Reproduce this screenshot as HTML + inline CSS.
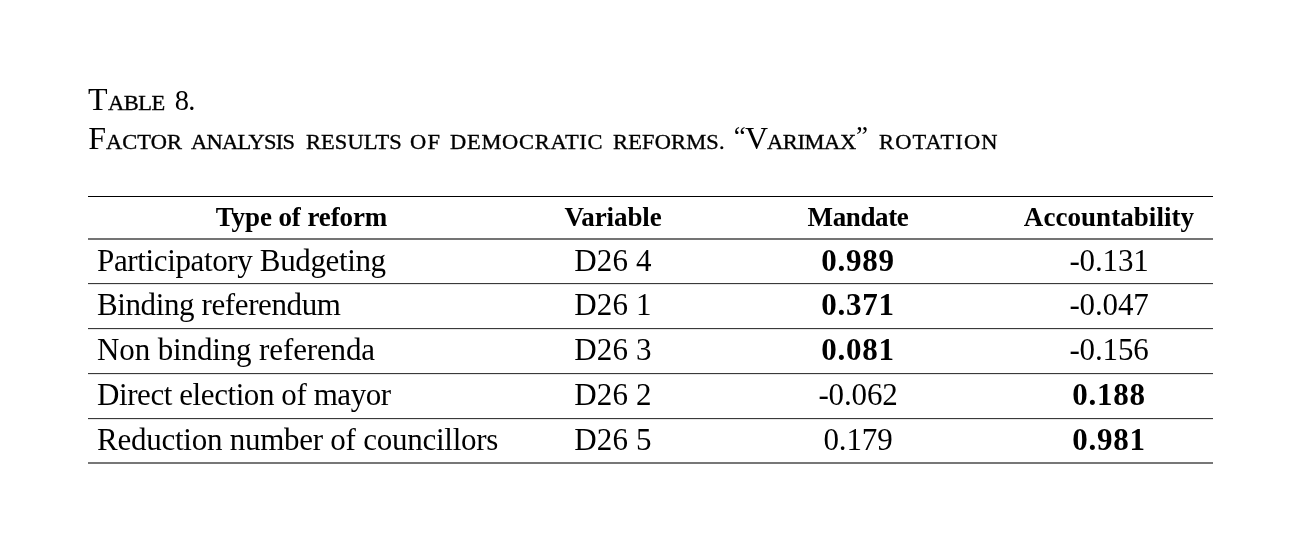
<!DOCTYPE html>
<html lang="en">
<head>
<meta charset="utf-8">
<title>Table 8. Factor analysis results of democratic reforms</title>
<style>
  html, body { margin: 0; padding: 0; background: #fff; }
  body { width: 1302px; height: 553px; position: relative; overflow: hidden;
         font-family: "Liberation Serif", "Times New Roman", serif; color: #000; }

  /* caption: two lines of small caps (capitals 32px, small capitals 21.4px) */
  .caption { position: absolute; left: 0; top: 0; margin: 0; font-weight: 400;
             font-size: 21.4px; text-transform: uppercase; white-space: nowrap; }
  .caption .ln { position: absolute; left: 0; display: block; height: 40px; line-height: 40px; width: 1302px; }
  .caption .l1 { top: 83px; }
  .caption .l2 { top: 122px; }
  .caption .w { position: absolute; top: 0; -webkit-text-stroke: 0.35px #000; }
  .caption .s { display: inline-block; transform: scaleX(1.05); transform-origin: 0 50%; }
  .caption .c { font-size: 32px; line-height: 0; -webkit-text-stroke: 0; }
  .caption .n { font-size: 28.5px; line-height: 0; -webkit-text-stroke: 0; }
  .caption .q { font-size: 27px; line-height: 0; -webkit-text-stroke: 0; position: relative; top: -4px; }

  /* table */
  table { position: absolute; left: 88px; top: 196px; width: 1125px; border-collapse: separate; border-spacing: 0;
          table-layout: fixed; font-size: 31px; }
  col.c1 { width: 427px; } col.c2 { width: 196px; } col.c3 { width: 294px; } col.c4 { width: 208px; }
  th, td { padding: 0; text-align: center; font-weight: 400; white-space: nowrap; overflow: visible; }
  thead th { height: 41px; line-height: 39px; border-top: 1px solid #000; border-bottom: 2px solid #747474;
             font-weight: 700; font-size: 27px; }
  tbody td { height: 44px; line-height: 42px; vertical-align: top; border-bottom: 1px solid #3a3a3a;
             background: linear-gradient(#e6e6e6, #e6e6e6) left top / 100% 1px no-repeat; }
  tbody tr:first-child td { height: 43px; background: none; }
  tbody tr:last-child td { height: 43px; border-bottom: 2px solid #777; }
  tbody td:first-child { text-align: left; padding-left: 9px; }
  tbody td { letter-spacing: -0.15px; }
  tbody td.v { letter-spacing: 0.2px; }
  b { font-weight: 700; letter-spacing: 0.8px; }
</style>
</head>
<body>
<h1 class="caption">
  <span class="ln l1"><span class="w" style="left:88px"><span class="c">T</span><span class="s" style="letter-spacing:-0.48px">able</span></span> <span class="w" style="left:174.7px;letter-spacing:-0.8px"><span class="n">8.</span></span></span>
  <span class="ln l2"><span class="w" style="left:88.3px"><span class="c">F</span><span class="s" style="letter-spacing:0.07px">actor</span></span> <span class="w" style="left:191px"><span class="s" style="letter-spacing:-0.65px">analysis</span></span> <span class="w" style="left:305.6px"><span class="s" style="letter-spacing:0.06px">results</span></span> <span class="w" style="left:410px"><span class="s" style="letter-spacing:1.33px">of</span></span> <span class="w" style="left:449.8px"><span class="s" style="letter-spacing:0.69px">democratic</span></span> <span class="w" style="left:612.8px"><span class="s" style="letter-spacing:0.15px">reforms.</span></span> <span class="w" style="left:733.8px"><span class="q">“</span></span><span class="w" style="left:744.9px"><span class="c" style="letter-spacing:-1.4px">V</span><span class="s" style="letter-spacing:-0.38px">arimax</span></span><span class="w" style="left:856.1px"><span class="q">”</span></span> <span class="w" style="left:878.8px"><span class="s" style="letter-spacing:1.09px">rotation</span></span></span>
</h1>
<table>
  <colgroup><col class="c1"><col class="c2"><col class="c3"><col class="c4"></colgroup>
  <thead>
    <tr><th style="letter-spacing:-0.1px">Type of reform</th><th style="letter-spacing:-0.11px">Variable</th><th style="letter-spacing:-0.37px">Mandate</th><th style="letter-spacing:0.06px">Accountability</th></tr>
  </thead>
  <tbody>
    <tr><td style="letter-spacing:-0.36px">Participatory Budgeting</td><td class="v">D26 4</td><td><b>0.989</b></td><td>-0.131</td></tr>
    <tr><td style="letter-spacing:-0.39px">Binding referendum</td><td class="v">D26 1</td><td><b>0.371</b></td><td>-0.047</td></tr>
    <tr><td style="letter-spacing:-0.125px">Non binding referenda</td><td class="v">D26 3</td><td><b>0.081</b></td><td>-0.156</td></tr>
    <tr><td style="letter-spacing:-0.42px">Direct election of mayor</td><td class="v">D26 2</td><td>-0.062</td><td><b>0.188</b></td></tr>
    <tr><td style="letter-spacing:-0.25px">Reduction number of councillors</td><td class="v">D26 5</td><td>0.179</td><td><b>0.981</b></td></tr>
  </tbody>
</table>
</body>
</html>
